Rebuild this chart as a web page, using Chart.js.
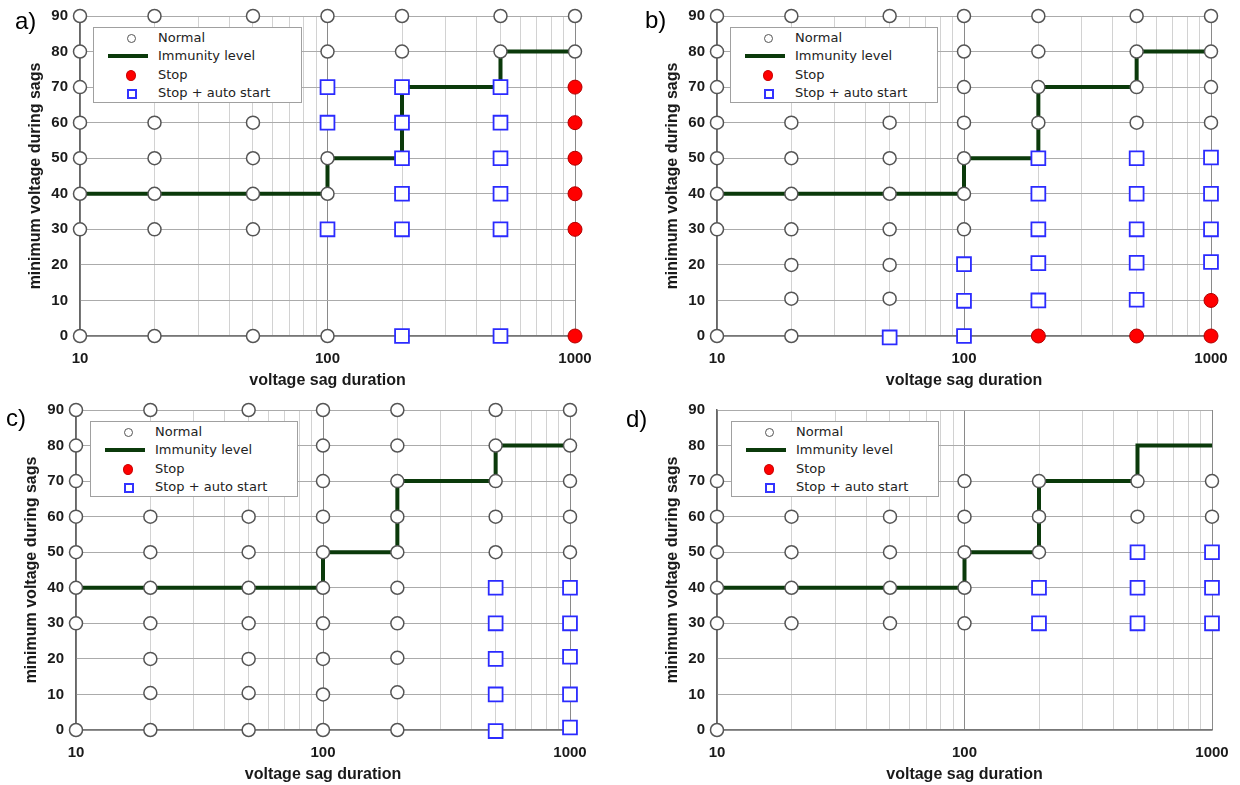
<!DOCTYPE html>
<html>
<head>
<meta charset="utf-8">
<script src="https://cdn.jsdelivr.net/npm/chart.js@4.4.1/dist/chart.umd.min.js"></script>
<style>
    body { margin: 0; background: #fff; width: 1240px; height: 785px; overflow: hidden; position: relative; }
    canvas { position: absolute; }
    .panel-label { position: absolute; font: 24px "Liberation Sans", Arial, sans-serif; line-height: 24px; color: #000; }
    .legend { position: absolute; background: #fff; border: 1px solid #a0a0a0; box-sizing: border-box; }
    .legend-row { position: absolute; left: 0; right: 0; height: 18px; font: 13px "DejaVu Sans", Verdana, sans-serif; color: #222; }
    .legend-row span.txt { position: absolute; left: 64px; top: 0; line-height: 18px; }
    .mk { position: absolute; box-sizing: border-box; }
</style>
</head>
<body>
<script>
// categories (voltage sag duration) and axis ticks
const durations = [10, 20, 50, 100, 200, 500, 1000];
const xTickValues = [10, 20, 30, 40, 50, 60, 70, 80, 90, 100, 200, 300, 400, 500, 600, 700, 800, 900, 1000];
const xLabelValues = [10, 100, 1000];
const yTickValues = [0, 10, 20, 30, 40, 50, 60, 70, 80, 90];

// immunity level (same in all panels)
const stepDurations = [10, 100, 200, 500, 1000];
const stepLevels = [40, 50, 70, 80, 80];

// panel a) - minimum voltages per duration
const aNormal = [[0, 30, 40, 50, 60, 70, 80, 90], [0, 30, 40, 50, 60, 70, 80, 90], [0, 30, 40, 50, 60, 70, 80, 90],
    [0, 40, 50, 80, 90], [80, 90], [80, 90], [80, 90]];
const aStop = [[], [], [], [], [], [], [0, 30, 40, 50, 60, 70]];
const aAutoStart = [[], [], [], [30, 60, 70], [0, 30, 40, 50, 60, 70], [0, 30, 40, 50, 60, 70], []];

// panel b)
const bNormal = [[0, 30, 40, 50, 60, 70, 80, 90], [0, 10.5, 20, 30, 40, 50, 60, 70, 80, 90], [10.5, 20, 30, 40, 50, 60, 70, 80, 90],
    [30, 40, 50, 60, 70, 80, 90], [60, 70, 80, 90], [60, 70, 80, 90], [60, 70, 80, 90]];
const bStop = [[], [], [], [], [0], [0], [0, 10]];
const bAutoStart = [[], [], [-0.4], [0, 9.9, 20.2], [10, 20.5, 30, 40, 50], [10.2, 20.6, 30, 40, 50], [20.8, 30, 40, 50.2]];

// panel c)
const cNormal = [[0, 30, 40, 50, 60, 70, 80, 90], [0, 10.4, 20, 30, 40, 50, 60, 70, 80, 90], [0, 10.4, 20, 30, 40, 50, 60, 70, 80, 90],
    [0, 10, 20, 30, 40, 50, 60, 70, 80, 90], [0, 10.6, 20.3, 30, 40, 50, 60, 70, 80, 90], [50, 60, 70, 80, 90], [50, 60, 70, 80, 90]];
const cStop = [[], [], [], [], [], [], []];
const cAutoStart = [[], [], [], [], [], [-0.3, 10, 20, 30, 40], [0.7, 10, 20.6, 30, 40]];

// panel d)
const dNormal = [[0, 30, 40, 50, 60, 70], [30, 40, 50, 60, 70], [30, 40, 50, 60, 70], [30, 40, 50, 60, 70],
    [50, 60, 70], [60, 70], [60, 70]];
const dStop = [[], [], [], [], [], [], []];
const dAutoStart = [[], [], [], [], [30, 40], [30, 40, 50], [30, 40, 50]];

const legendLabels = ['Normal', 'Immunity level', 'Stop', 'Stop + auto start'];

// layout of the four panels (canvas box, plot box, legend box, label position)
const panels = [
    { label: 'a)', normal: aNormal, stop: aStop, auto: aAutoStart,
      canvas: [0, 0, 610, 395], plot: [80, 575, 16, 336], legend: [93, 27, 209, 76], labelPos: [15, 9] },
    { label: 'b)', normal: bNormal, stop: bStop, auto: bAutoStart,
      canvas: [620, 0, 620, 395], plot: [717, 1211, 16, 336], legend: [730, 27, 208, 76], labelPos: [645, 8] },
    { label: 'c)', normal: cNormal, stop: cStop, auto: cAutoStart,
      canvas: [0, 395, 610, 390], plot: [76, 570, 410, 730], legend: [90, 421, 208, 76], labelPos: [6, 406] },
    { label: 'd)', normal: dNormal, stop: dStop, auto: dAutoStart,
      canvas: [620, 395, 620, 390], plot: [717, 1212, 410, 730], legend: [731, 421, 208, 76], labelPos: [626, 407] }
];

function toPoints(cols) {
    const pts = [];
    cols.forEach((vals, i) => vals.forEach(v => pts.push({ x: durations[i], y: v })));
    return pts;
}

const tickFont = { family: '"Liberation Sans", Arial, sans-serif', size: 15, weight: 'bold' };
const titleFont = { family: '"Liberation Sans", Arial, sans-serif', size: 16, weight: 'bold' };

function buildLegend(p) {
    const [l, t, w, h] = p.legend;
    const box = document.createElement('div');
    box.className = 'legend';
    box.style.cssText = `left:${l}px;top:${t}px;width:${w}px;height:${h}px;`;
    legendLabels.forEach((text, i) => {
        const row = document.createElement('div');
        row.className = 'legend-row';
        row.style.top = Math.round(1 + i * 18.3) + 'px';
        const mk = document.createElement('span');
        mk.className = 'mk';
        if (i === 0) {
            mk.style.cssText = 'left:33px;top:5px;width:9px;height:9px;border:1.3px solid #555;border-radius:50%;background:#fff;';
        } else if (i === 1) {
            mk.style.cssText = 'left:14px;top:7px;width:40px;height:4px;background:#0b3a0b;';
        } else if (i === 2) {
            mk.style.cssText = 'left:32px;top:4px;width:10px;height:11px;border-radius:50%;background:#f00;border:1px solid #c00;';
        } else {
            mk.style.cssText = 'left:33px;top:5px;width:10px;height:10px;border:2px solid #3333ff;background:#fff;';
        }
        const txt = document.createElement('span');
        txt.className = 'txt';
        txt.textContent = text;
        row.appendChild(mk);
        row.appendChild(txt);
        box.appendChild(row);
    });
    document.body.appendChild(box);
}

function buildPanel(p) {
    const [cl, ct, cw, ch] = p.canvas;
    const [pl, pr, pt, pb] = p.plot;
    const canvas = document.createElement('canvas');
    canvas.width = cw;
    canvas.height = ch;
    canvas.style.left = cl + 'px';
    canvas.style.top = ct + 'px';
    document.body.appendChild(canvas);

    const yWidth = pl - cl;
    const xHeight = ct + ch - pb;
    const yTitlePad = pl - 44 - cl - 9.6;
    const xTitlePad = (ct + ch) - (pb + 45) - 9.6;

    new Chart(canvas.getContext('2d'), {
        type: 'scatter',
        data: {
            datasets: [
                {
                    label: 'Normal',
                    data: toPoints(p.normal),
                    pointStyle: 'circle',
                    pointRadius: 6.5,
                    backgroundColor: '#fff',
                    borderColor: '#555',
                    borderWidth: 1.5,
                    clip: false,
                    order: 1
                },
                {
                    label: 'Stop',
                    data: toPoints(p.stop),
                    pointStyle: 'circle',
                    pointRadius: 7,
                    backgroundColor: '#ff0000',
                    borderColor: '#b00000',
                    borderWidth: 1,
                    clip: false,
                    order: 1
                },
                {
                    label: 'Stop + auto start',
                    data: toPoints(p.auto),
                    pointStyle: 'rect',
                    pointRadius: 9.8,
                    backgroundColor: '#fff',
                    borderColor: '#2b2bff',
                    borderWidth: 1.8,
                    clip: false,
                    order: 1
                },
                {
                    label: 'Immunity level',
                    data: stepDurations.map((d, i) => ({ x: d, y: stepLevels[i] })),
                    showLine: true,
                    stepped: 'before',
                    borderColor: '#0b3a0b',
                    borderWidth: 4,
                    pointRadius: 0,
                    clip: false,
                    order: 5
                }
            ]
        },
        options: {
            responsive: false,
            animation: false,
            devicePixelRatio: 1,
            layout: { autoPadding: false, padding: { top: pt - ct, right: cl + cw - pr, left: 0, bottom: 0 } },
            plugins: { legend: { display: false }, tooltip: { enabled: false } },
            scales: {
                x: {
                    type: 'logarithmic',
                    min: 10,
                    max: 1000,
                    afterBuildTicks: scale => { scale.ticks = xTickValues.map(v => ({ value: v })); },
                    afterFit: scale => { scale.height = xHeight; scale.paddingLeft = 0; scale.paddingRight = 0; },
                    grid: {
                        drawTicks: false,
                        color: c => xLabelValues.includes(c.tick && c.tick.value) ? '#8a8a8a' : '#d2d2d2',
                        lineWidth: 1
                    },
                    border: { color: '#777', width: 1.5 },
                    ticks: {
                        autoSkip: false,
                        maxRotation: 0,
                        padding: 14,
                        color: '#1a1a1a',
                        font: tickFont,
                        callback: v => xLabelValues.includes(v) ? String(v) : ''
                    },
                    title: { display: true, text: 'voltage sag duration', color: '#1a1a1a', font: titleFont, padding: { top: 0, bottom: xTitlePad } }
                },
                y: {
                    min: 0,
                    max: 90,
                    afterBuildTicks: scale => { scale.ticks = yTickValues.map(v => ({ value: v })); },
                    afterFit: scale => { scale.width = yWidth; scale.paddingTop = 0; scale.paddingBottom = 0; },
                    grid: { drawTicks: false, color: '#ababab', lineWidth: 1 },
                    border: { color: '#666', width: 1.5 },
                    ticks: { padding: 12, color: '#1a1a1a', font: tickFont },
                    title: { display: true, text: 'minimum voltage during sags', color: '#1a1a1a', font: titleFont, padding: { top: yTitlePad, bottom: 0 } }
                }
            }
        }
    });

    buildLegend(p);

    const lab = document.createElement('div');
    lab.className = 'panel-label';
    lab.style.left = p.labelPos[0] + 'px';
    lab.style.top = p.labelPos[1] + 'px';
    lab.textContent = p.label;
    document.body.appendChild(lab);
}

panels.forEach(buildPanel);
</script>
</body>
</html>
